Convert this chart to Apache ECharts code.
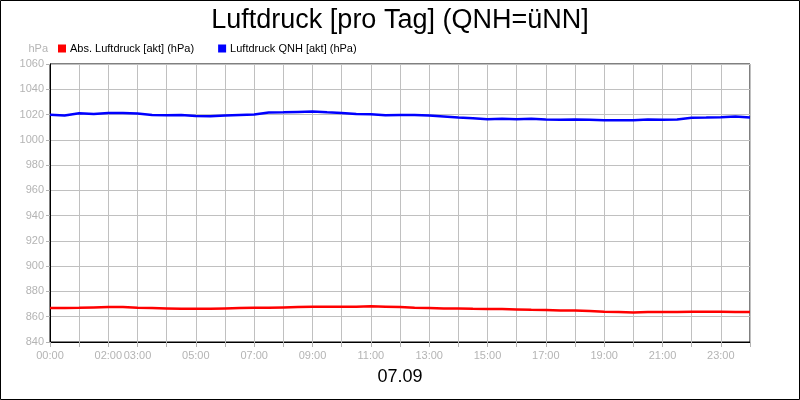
<!DOCTYPE html>
<html>
<head>
<meta charset="utf-8">
<title>Luftdruck</title>
<script src="https://cdn.jsdelivr.net/npm/echarts@6/dist/echarts.min.js"></script>
<style>
  html, body { margin: 0; padding: 0; background: #fff; }
  #chart { width: 800px; height: 400px; }
</style>
</head>
<body>
<div id="chart"></div>
<script>
// hours of the day (half-hour samples)
var hours = [0, 0.5, 1, 1.5, 2, 2.5, 3, 3.5, 4, 4.5, 5, 5.5, 6, 6.5, 7, 7.5, 8, 8.5,
  9, 9.5, 10, 10.5, 11, 11.5, 12, 12.5, 13, 13.5, 14, 14.5, 15, 15.5, 16, 16.5,
  17, 17.5, 18, 18.5, 19, 19.5, 20, 20.5, 21, 21.5, 22, 22.5, 23, 23.5, 24];

// Abs. Luftdruck [akt] (hPa)
var absPressure = [866.9, 866.9, 867.1, 867.4, 867.7, 867.7, 867.1, 866.9, 866.6, 866.3,
  866.3, 866.3, 866.6, 866.9, 867.1, 867.1, 867.4, 867.7, 867.9, 867.9, 867.9, 867.9,
  868.2, 867.9, 867.6, 867.1, 866.9, 866.6, 866.6, 866.3, 866.1, 866.1, 865.8, 865.5,
  865.3, 865.0, 865.0, 864.5, 864.0, 863.7, 863.4, 863.7, 863.7, 863.7, 864.0, 864.0,
  864.0, 863.7, 863.7];

// Luftdruck QNH [akt] (hPa)
var qnhPressure = [1019.8, 1019.2, 1021.1, 1020.5, 1021.3, 1021.3, 1020.8, 1019.7, 1019.5,
  1019.7, 1018.9, 1018.7, 1019.2, 1019.7, 1020.0, 1021.6, 1021.8, 1022.1, 1022.4, 1021.8,
  1021.3, 1020.5, 1020.3, 1019.5, 1019.6, 1019.7, 1019.2, 1018.4, 1017.6, 1017.1, 1016.3,
  1016.6, 1016.3, 1016.6, 1016.0, 1015.8, 1016.0, 1015.8, 1015.5, 1015.5, 1015.5, 1016.0,
  1015.8, 1016.0, 1017.4, 1017.6, 1017.9, 1018.4, 1017.6];

// labels under the hourly ticks (blank where the original leaves them out)
var xTickLabels = ['00:00', '', '02:00', '03:00', '', '05:00', '', '07:00', '', '09:00', '',
  '11:00', '', '13:00', '', '15:00', '', '17:00', '', '19:00', '', '21:00', '', '23:00', ''];

var seriesNames = ['Abs. Luftdruck [akt] (hPa)', 'Luftdruck QNH [akt] (hPa)'];

function pairs(values) {
    return hours.map(function (h, i) { return [h, values[i]]; });
}

var chart = echarts.init(document.getElementById('chart'));
var grey = '#b4b4b4';

chart.setOption({
    animation: false,
    backgroundColor: '#fff',
    textStyle: { fontFamily: 'Liberation Sans, Arial, sans-serif' },
    title: {
        text: 'Luftdruck [pro Tag] (QNH=üNN]',
        left: 'center',
        top: 2,
        textStyle: { fontSize: 27, fontWeight: 'normal', color: '#000' }
    },
    legend: {
        left: 53,
        top: 38,
        icon: 'rect',
        itemWidth: 8,
        itemHeight: 8,
        itemGap: 24,
        textStyle: { fontSize: 11, color: '#000', padding: [0, 0, 0, -1] },
        data: seriesNames
    },
    graphic: [
        {
            type: 'rect',
            shape: { x: 0.5, y: 0.5, width: 799, height: 399 },
            style: { fill: 'none', stroke: '#000', lineWidth: 1 },
            silent: true
        },
        {
            type: 'text',
            left: 'center',
            top: 368,
            style: { text: '07.09', fontSize: 18, fill: '#000', fontFamily: 'Liberation Sans, Arial, sans-serif' }
        }
    ],
    grid: {
        left: 50,
        right: 50,
        top: 64,
        bottom: 58,
        show: true,
        borderColor: '#000',
        borderWidth: 1
    },
    xAxis: {
        type: 'value',
        min: 0,
        max: 24,
        interval: 1,
        axisLine: { lineStyle: { color: '#000' } },
        axisTick: { show: true, length: 5, lineStyle: { color: grey } },
        axisLabel: {
            color: grey,
            fontSize: 11,
            margin: 8,
            showMaxLabel: true,
            formatter: function (v) { return xTickLabels[Math.round(v)] || ''; }
        },
        splitLine: { show: true, lineStyle: { color: '#c0c0c0' } }
    },
    yAxis: {
        type: 'value',
        name: 'hPa',
        nameLocation: 'end',
        nameGap: 10,
        nameTextStyle: { color: grey, fontSize: 11, align: 'right', padding: [0, 2, 0, 0] },
        min: 840,
        max: 1060,
        interval: 20,
        axisLine: { show: true, lineStyle: { color: '#000' } },
        axisTick: { show: true, length: 4, lineStyle: { color: grey } },
        axisLabel: {
            color: grey,
            fontSize: 11,
            margin: 6,
            formatter: function (v) { return String(v); }
        },
        splitLine: { show: true, lineStyle: { color: '#c0c0c0' } }
    },
    series: [
        {
            name: seriesNames[0],
            type: 'line',
            data: pairs(absPressure),
            showSymbol: false,
            color: '#ff0000',
            lineStyle: { width: 2.5, color: '#ff0000' }
        },
        {
            name: seriesNames[1],
            type: 'line',
            data: pairs(qnhPressure),
            showSymbol: false,
            color: '#0000ff',
            lineStyle: { width: 2.5, color: '#0000ff' }
        }
    ]
});
</script>
</body>
</html>
